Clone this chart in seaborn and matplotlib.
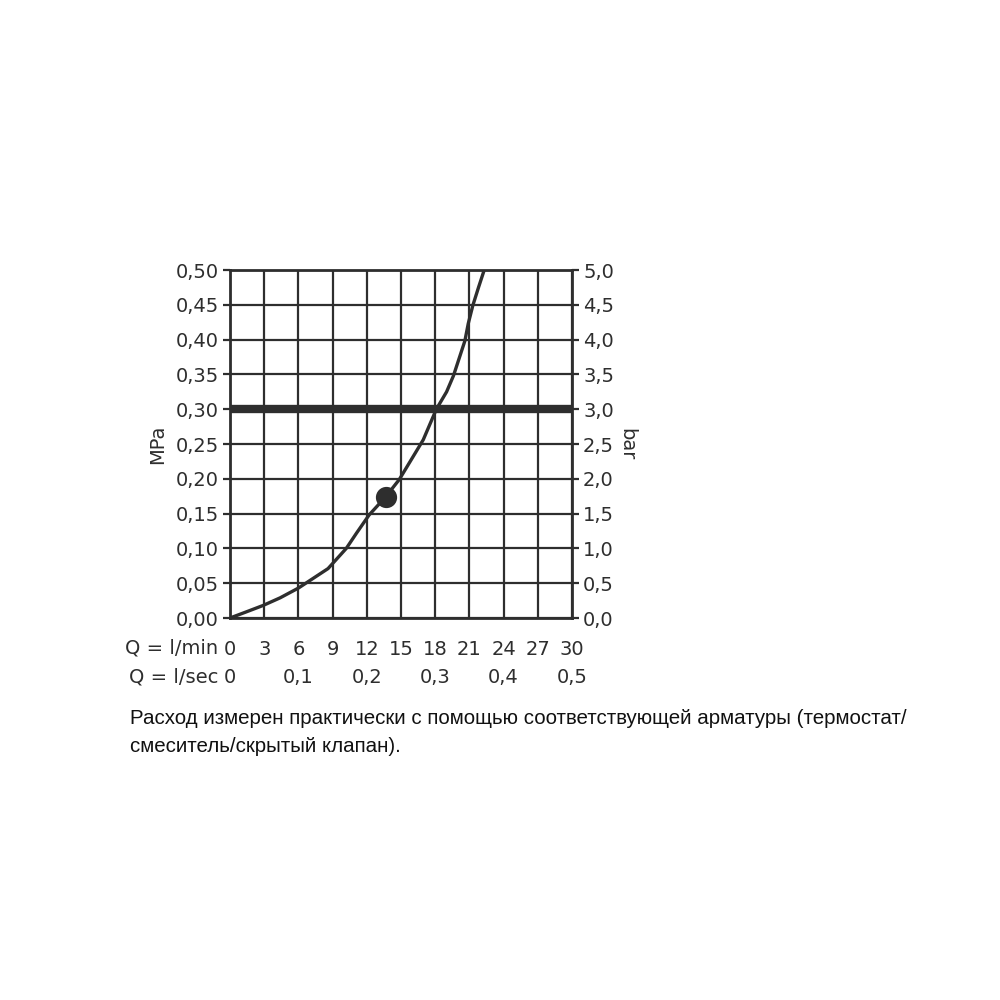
import matplotlib
matplotlib.use("Agg")
import matplotlib.pyplot as plt
import seaborn as sns
import pandas as pd

# ---- data ----
flow_lmin = [0, 1.3, 2.9, 4.4, 6.0, 8.6, 10.2, 11.1, 12.2, 13.65, 14.85, 16.95,
             18.1, 19.0, 19.6, 20.1, 20.6, 20.9, 21.3, 21.8, 22.3]
pressure_mpa = [0, 0.008, 0.018, 0.029, 0.043, 0.071, 0.100, 0.122, 0.148, 0.174, 0.199, 0.256,
                0.30, 0.325, 0.348, 0.373, 0.398, 0.423, 0.449, 0.475, 0.50]
point_x = [13.65]
point_y = [0.174]
ref_pressure = 0.30
ref_flow = 18
x_ticks = [0, 3, 6, 9, 12, 15, 18, 21, 24, 27, 30]
x_tick_labels = ["0", "3", "6", "9", "12", "15", "18", "21", "24", "27", "30"]
sec_positions = [0, 6, 12, 18, 24, 30]
sec_labels = ["0", "0,1", "0,2", "0,3", "0,4", "0,5"]
y_ticks = [0, 0.05, 0.10, 0.15, 0.20, 0.25, 0.30, 0.35, 0.40, 0.45, 0.50]
y_tick_labels = ["0,00", "0,05", "0,10", "0,15", "0,20", "0,25", "0,30", "0,35", "0,40", "0,45", "0,50"]
bar_ticks = [0, 0.5, 1.0, 1.5, 2.0, 2.5, 3.0, 3.5, 4.0, 4.5, 5.0]
bar_tick_labels = ["0,0", "0,5", "1,0", "1,5", "2,0", "2,5", "3,0", "3,5", "4,0", "4,5", "5,0"]
caption = ("Расход измерен практически с помощью соответствующей арматуры (термостат/\n"
           "смеситель/скрытый клапан).")

sns.set_style("white")
plt.rcParams['font.family'] = ['DejaVu Sans']

INK = "#2e2e2e"
fig = plt.figure(figsize=(10, 10), dpi=100)
ax = fig.add_axes([0.23, 0.382, 0.342, 0.348])

df = pd.DataFrame({"q": flow_lmin, "p": pressure_mpa})
ax.set_xlim(0, 30)
ax.set_ylim(0, 0.5)
ax.set_xticks(x_ticks)
ax.set_xticklabels(x_tick_labels)
ax.set_yticks(y_ticks)
ax.set_yticklabels(y_tick_labels)
ax.grid(True, color=INK, linewidth=1.6, zorder=1)
ax.set_axisbelow(True)
for s in ax.spines.values():
    s.set_color(INK)
    s.set_linewidth(2)
ax.tick_params(axis="both", direction="out", length=5, width=1.6, color=INK,
               labelsize=14, labelcolor=INK, pad=3)
ax.tick_params(axis="x", pad=11)

ax.axhline(ref_pressure, color=INK, linewidth=6, zorder=3)
ax.vlines(ref_flow, 0, ref_pressure, colors=INK, linestyles=(0, (4, 3)), linewidth=1.3, zorder=2)

sns.lineplot(data=df, x="q", y="p", ax=ax, color=INK, linewidth=2.4, zorder=4, sort=False)
sns.scatterplot(x=point_x, y=point_y, ax=ax, color=INK, s=200, edgecolor=INK, zorder=5)

ax.set_xlabel("")
ax.set_ylabel("MPa", fontsize=14, color=INK, labelpad=6)

ax2 = ax.twinx()
ax2.set_ylim(0, 5)
ax2.set_yticks(bar_ticks)
ax2.set_yticklabels(bar_tick_labels)
ax2.tick_params(axis="y", direction="out", length=5, width=1.6, color=INK,
                labelsize=14, labelcolor=INK, pad=3)
for s in ax2.spines.values():
    s.set_visible(False)
ax2.set_ylabel("bar", fontsize=14, color=INK, rotation=270, labelpad=16)
ax2.grid(False)

# second row of x labels (l/sec)
for pos, lab in zip(sec_positions, sec_labels):
    ax.annotate(lab, xy=(pos, 0), xycoords=("data", "axes fraction"),
                xytext=(0, -42.5), textcoords="offset points",
                ha="center", va="center", fontsize=14, color=INK)

fig.text(0.218, 0.352, "Q = l/min", ha="right", va="center", fontsize=14, color=INK)
fig.text(0.218, 0.323, "Q = l/sec", ha="right", va="center", fontsize=14, color=INK)

fig.text(0.13, 0.291, caption, ha="left", va="top", fontsize=14.8,
         family=["Liberation Sans", "DejaVu Sans"], color="#111111", linespacing=1.6)

fig.savefig("out.png", dpi=100, facecolor="white")
